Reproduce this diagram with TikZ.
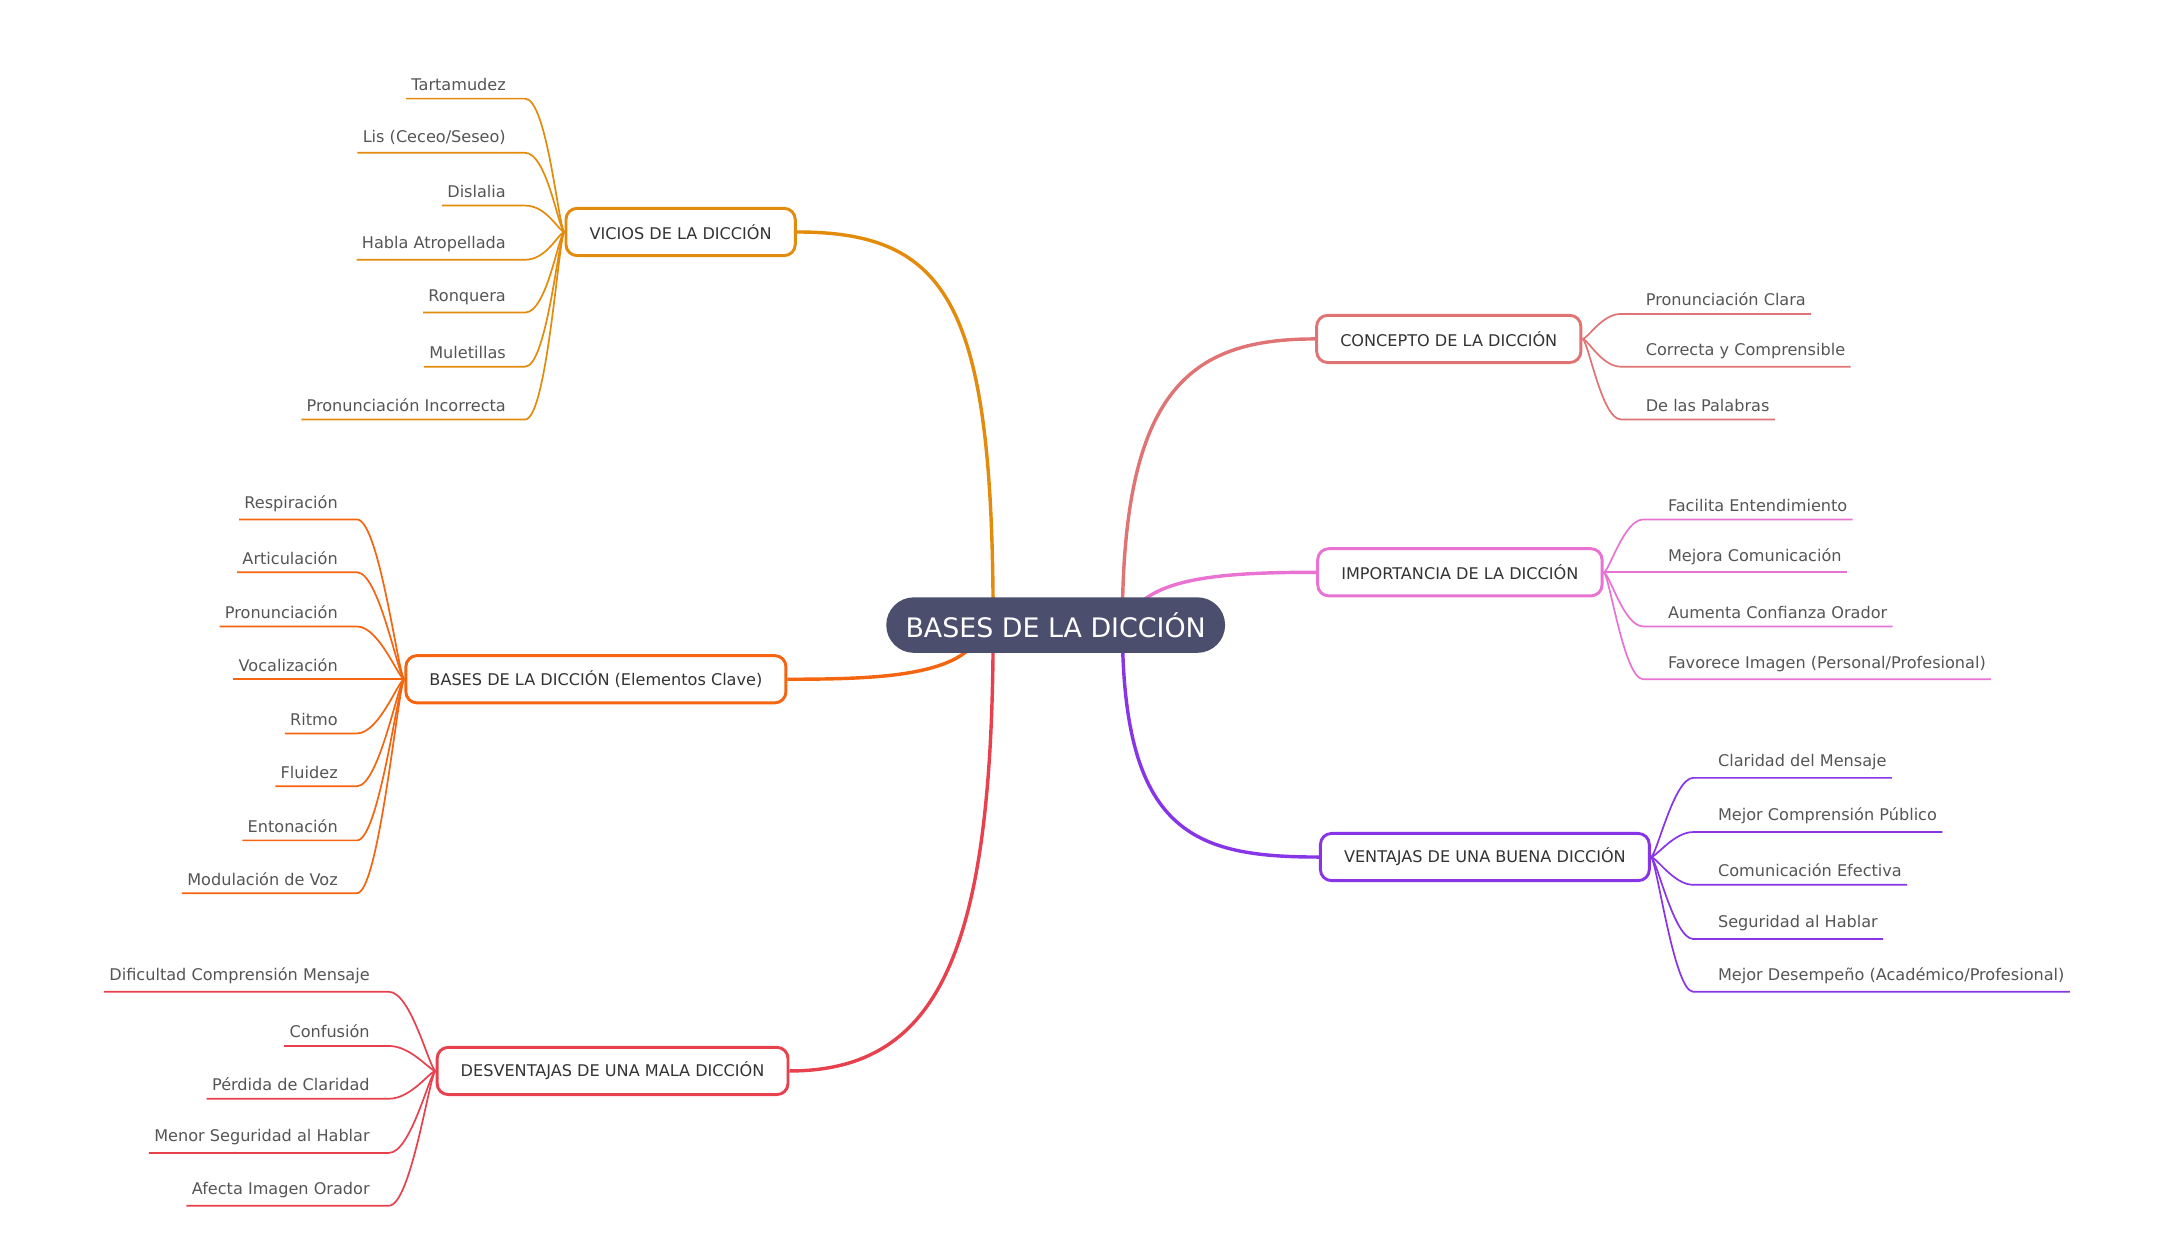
\documentclass[tikz,border=0pt]{standalone}
\usepackage{fontspec}
\setmainfont{DejaVu Sans}
\usetikzlibrary{calc,backgrounds}
\definecolor{vicC}{HTML}{E38B0C}
\definecolor{basC}{HTML}{F5640F}
\definecolor{desC}{HTML}{E8414E}
\definecolor{conC}{HTML}{E07474}
\definecolor{impC}{HTML}{E873D2}
\definecolor{venC}{HTML}{8835E8}
\definecolor{hubC}{HTML}{4B4E6D}
\definecolor{txtC}{HTML}{555555}
\tikzset{
  hub/.style={fill=hubC, text=white, rounded corners=0.4cm, minimum width=4.88cm,
    minimum height=0.8cm, font=\fontsize{11}{13}\selectfont},
  branch/.style={draw=#1, fill=white, line width=1.2pt, rounded corners=0.16cm,
    minimum height=0.68cm, inner xsep=0.34cm, text=black!80, font=\fontsize{6.6}{8}\selectfont},
  leaf/.style={text=txtC, inner xsep=2pt, inner ysep=3pt, font=\fontsize{6.6}{8}\selectfont},
  link/.style={draw=#1, line width=1.4pt},
  twig/.style={draw=#1, line width=0.7pt}
}
\begin{document}
\begin{tikzpicture}[x=0.02cm, y=-0.02cm]
  \useasboundingbox (0,0) rectangle (1568,900);
  % hub and main branches
  \node[hub] (M) at (760,450) {BASES DE LA DICCIÓN};
  \node[branch=vicC] (V) at (490,167) {VICIOS DE LA DICCIÓN};
  \node[branch=basC] (B) at (429,489) {BASES DE LA DICCIÓN (Elementos Clave)};
  \node[branch=desC] (D) at (441,771) {DESVENTAJAS DE UNA MALA DICCIÓN};
  \node[branch=conC] (C) at (1043,244) {CONCEPTO DE LA DICCIÓN};
  \node[branch=impC] (I) at (1051,412) {IMPORTANCIA DE LA DICCIÓN};
  \node[branch=venC] (A) at (1069,617) {VENTAJAS DE UNA BUENA DICCIÓN};

  \begin{scope}[on background layer]
    \draw[link=vicC] ($(M.center)+(-45,0)$) .. controls +(0,-230) and +(110,0) .. (V.east);
    \draw[link=basC] ($(M.center)+(-60,15)$) .. controls +(-20,22) and +(60,0) .. (B.east);
    \draw[link=desC] ($(M.center)+(-45,0)$) .. controls +(0,230) and +(110,0) .. (D.east);
    \draw[link=conC] ($(M.center)+(48,0)$) .. controls +(0,-170) and +(-90,0) .. (C.west);
    \draw[link=impC] ($(M.center)+(60,-15)$) .. controls +(20,-20) and +(-60,0) .. (I.west);
    \draw[link=venC] ($(M.center)+(48,0)$) .. controls +(0,150) and +(-90,0) .. (A.west);
  \end{scope}

  % left leaves
  \foreach \t/\y [count=\i] in {Tartamudez/71, {Lis (Ceceo/Seseo)}/110, Dislalia/148,
      {Habla Atropellada}/187, Ronquera/225, Muletillas/264, {Pronunciación Incorrecta}/302} {
    \node[leaf, anchor=south east] (v\i) at (368,\y) {\t};
    \draw[twig=vicC] (v\i.south west) -- (v\i.south east) -- ++(10,0)
      .. controls +(16,0) and +(-4,0) .. (V.west);
  }
  \foreach \t/\y [count=\i] in {Respiración/374, Articulación/412, Pronunciación/451,
      Vocalización/489, Ritmo/528, Fluidez/566, Entonación/605, {Modulación de Voz}/643} {
    \node[leaf, anchor=south east] (b\i) at (247,\y) {\t};
    \draw[twig=basC] (b\i.south west) -- (b\i.south east) -- ++(10,0)
      .. controls +(16,0) and +(-4,0) .. (B.west);
  }
  \foreach \t/\y [count=\i] in {{Dificultad Comprensión Mensaje}/714, Confusión/753,
      {Pérdida de Claridad}/791, {Menor Seguridad al Hablar}/830, {Afecta Imagen Orador}/868} {
    \node[leaf, anchor=south east] (d\i) at (270,\y) {\t};
    \draw[twig=desC] (d\i.south west) -- (d\i.south east) -- ++(10,0)
      .. controls +(16,0) and +(-4,0) .. (D.west);
  }

  % right leaves
  \foreach \t/\y [count=\i] in {{Pronunciación Clara}/226, {Correcta y Comprensible}/264,
      {De las Palabras}/302} {
    \node[leaf, anchor=south west] (c\i) at (1181,\y) {\t};
    \draw[twig=conC] (c\i.south east) -- (c\i.south west) -- ++(-14,0)
      .. controls +(-14,0) and +(4,0) .. (C.east);
  }
  \foreach \t/\y [count=\i] in {{Facilita Entendimiento}/374, {Mejora Comunicación}/412,
      {Aumenta Confianza Orador}/451, {Favorece Imagen (Personal/Profesional)}/489} {
    \node[leaf, anchor=south west] (i\i) at (1197,\y) {\t};
    \draw[twig=impC] (i\i.south east) -- (i\i.south west) -- ++(-14,0)
      .. controls +(-14,0) and +(4,0) .. (I.east);
  }
  \foreach \t/\y [count=\i] in {{Claridad del Mensaje}/560, {Mejor Comprensión Público}/599,
      {Comunicación Efectiva}/637, {Seguridad al Hablar}/676,
      {Mejor Desempeño (Académico/Profesional)}/714} {
    \node[leaf, anchor=south west] (a\i) at (1233,\y) {\t};
    \draw[twig=venC] (a\i.south east) -- (a\i.south west) -- ++(-14,0)
      .. controls +(-14,0) and +(4,0) .. (A.east);
  }
\end{tikzpicture}
\end{document}
